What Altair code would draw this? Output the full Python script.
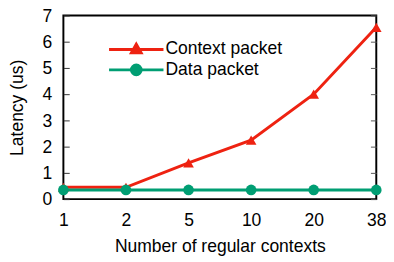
import altair as alt
import pandas as pd

contexts = ["1", "2", "5", "10", "20", "38"]
context_latency = [0.45, 0.45, 1.38, 2.25, 4.0, 6.55]
data_latency = [0.35, 0.35, 0.35, 0.35, 0.35, 0.35]
series = ["Context packet", "Data packet"]
colors = ["#ee2211", "#009e73"]
y_ticks = [0, 1, 2, 3, 4, 5, 6, 7]

rows = []
for c, v in zip(contexts, context_latency):
    rows.append({"contexts": c, "latency": v, "series": series[0]})
for c, v in zip(contexts, data_latency):
    rows.append({"contexts": c, "latency": v, "series": series[1]})
df = pd.DataFrame(rows)

FONT = "Liberation Sans"
FS = 18

xscale = alt.Scale(type="point", padding=0, domain=contexts)
yscale = alt.Scale(domain=[0, 7], nice=False, zero=True)
cscale = alt.Scale(domain=series, range=colors)

# legend sample glyphs: line segment plus marker (size 100 -> 5 px per unit)
tri = "M-5.6,0L5.6,0M0,-1.1L1.0,0.7L-1.0,0.7Z"
circ = "M-5.6,0L5.6,0M1.0,0A1.0,1.0,0,1,1,-1.0,0A1.0,1.0,0,1,1,1.0,0Z"

x_bottom = alt.X("contexts:N", scale=xscale, sort=contexts,
                 axis=alt.Axis(orient="bottom", title="Number of regular contexts",
                               labelAngle=0, domain=False, ticks=False,
                               labelPadding=13, labelFontSize=FS,
                               titleFontSize=FS, labelFont=FONT, titleFont=FONT,
                               titleFontWeight="normal", titlePadding=9,
                               labelColor="black", titleColor="black", grid=False))
y_left = alt.Y("latency:Q", scale=yscale,
               axis=alt.Axis(orient="left", title="Latency (us)", values=y_ticks,
                             domain=False, offset=-6, tickSize=6, tickColor="#333",
                             labelPadding=12, labelFontSize=FS, titleFontSize=FS,
                             labelFont=FONT, titleFont=FONT, titleFontWeight="normal",
                             titlePadding=16, labelColor="black", titleColor="black",
                             labelOffset=1, grid=False))

y_right = alt.Y("latency:Q", scale=yscale,
                axis=alt.Axis(orient="right", title=None, labels=False, values=y_ticks,
                              domain=False, offset=-6, tickSize=6, tickColor="#555",
                              grid=False))

lines = alt.Chart(df).mark_line(strokeWidth=3).encode(
    x=x_bottom, y=y_left,
    color=alt.Color("series:N", scale=cscale, legend=None),
    detail="series:N",
)

points = alt.Chart(df).mark_point(filled=True, size=120, opacity=1).encode(
    x=alt.X("contexts:N", scale=xscale, sort=contexts, axis=None),
    y=y_right,
    color=alt.Color("series:N", scale=cscale, legend=None),
    shape=alt.Shape("series:N", scale=alt.Scale(domain=series, range=["triangle-up", "circle"]),
                    legend=None),
)

leg = dict(title=None, orient="none", legendX=66, legendY=26, padding=0,
           symbolSize=100, symbolOpacity=1, symbolStrokeWidth=3,
           labelFont=FONT, labelFontSize=FS, labelColor="black",
           labelOffset=21, rowPadding=0)

legend_layer = alt.Chart(df).mark_point(filled=False, opacity=0, strokeWidth=3).encode(
    x=alt.X("contexts:N", scale=xscale, sort=contexts, axis=None),
    y=alt.Y("latency:Q", scale=yscale, axis=None),
    fill=alt.Fill("series:N", scale=cscale, legend=alt.Legend(**leg)),
    stroke=alt.Stroke("series:N", scale=cscale, legend=alt.Legend(**leg)),
    shape=alt.Shape("series:N", scale=alt.Scale(domain=series, range=[tri, circ]),
                    legend=alt.Legend(**leg)),
)

chart = alt.layer(lines, points, legend_layer).resolve_scale(
    shape="independent", fill="independent", stroke="independent"
).resolve_axis(
    x="independent", y="independent"
).properties(
    width=322, height=189,
    autosize=alt.AutoSizeParams(type="none"),
    padding={"left": 57, "top": 4, "right": 10, "bottom": 60},
).configure_view(stroke="black", strokeWidth=2)

chart.save("out.html", embed_options={"renderer": "svg", "actions": False})
